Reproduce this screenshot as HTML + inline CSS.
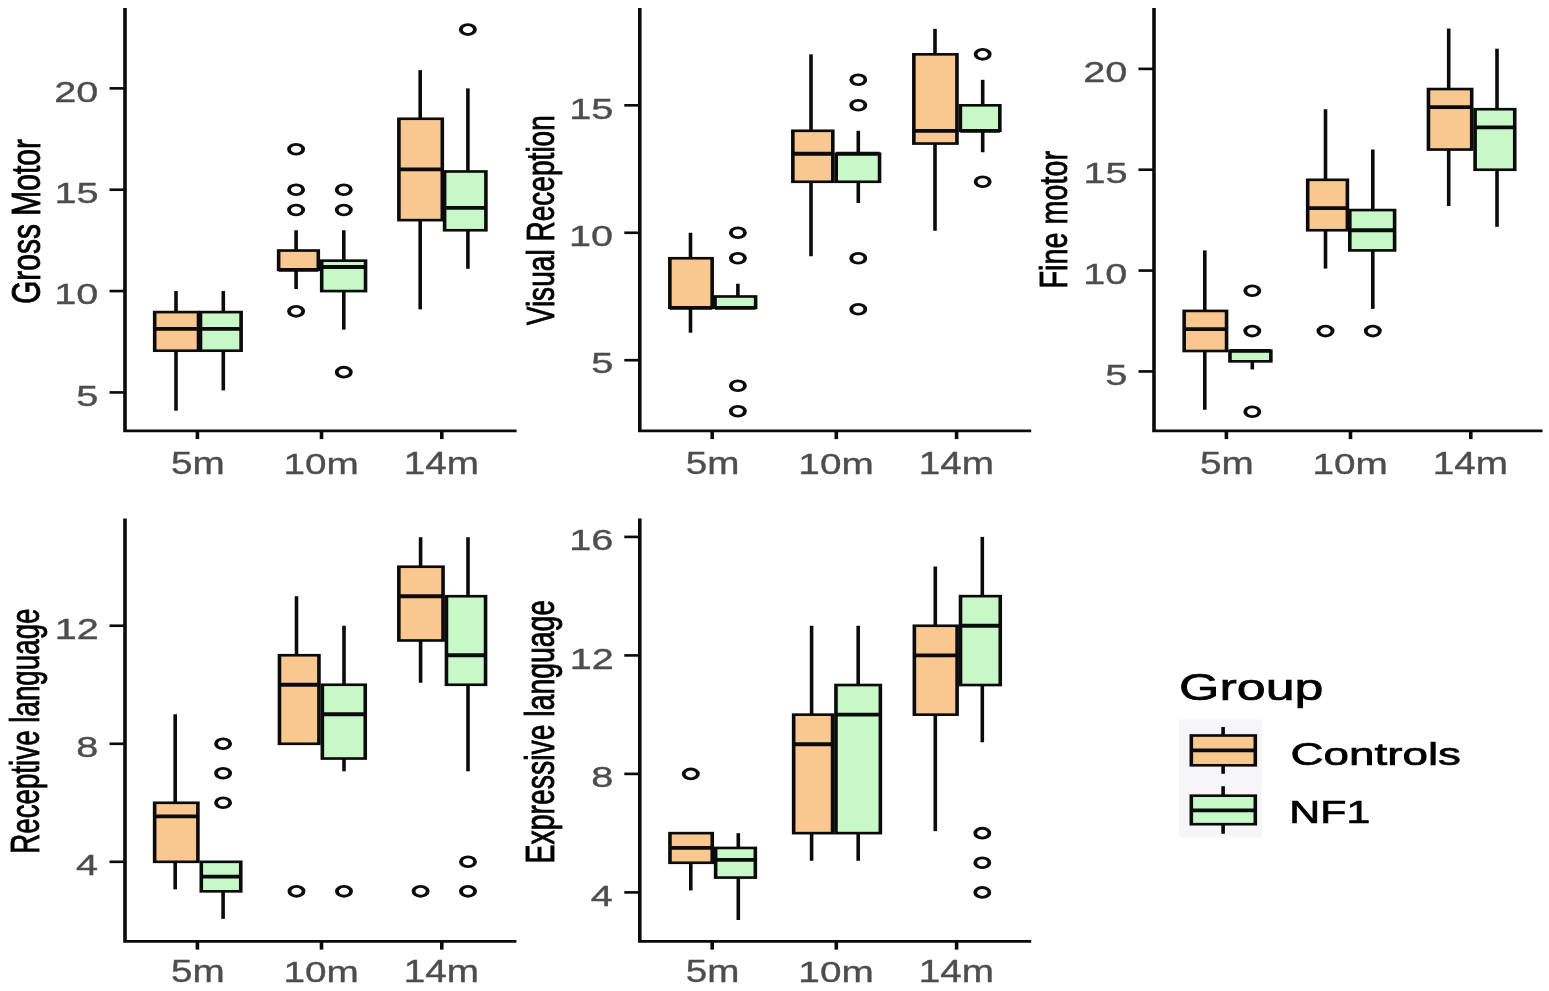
<!DOCTYPE html><html><head><meta charset="utf-8"><title>Boxplots</title><style>html,body{margin:0;padding:0;background:#fff}svg{display:block}text{font-family:"Liberation Sans",Arial,sans-serif}</style></head><body>
<svg width="1549" height="991" viewBox="0 0 1549 991">
<rect width="1549" height="991" fill="#fff"/>
<g transform="scale(1.36 1)" stroke="#0b0b0b" stroke-width="2.65" fill="none">
<rect x="113.75" y="312.1" width="32.21" height="38.6" fill="#F9C891" stroke="none"/>
<rect x="147.43" y="312.1" width="29.85" height="38.6" fill="#C8F7C8" stroke="none"/>
<rect x="204.89" y="250.53" width="29.15" height="19.27" fill="#F9C891" stroke="none"/>
<rect x="236.54" y="260.67" width="32.24" height="30.41" fill="#C8F7C8" stroke="none"/>
<rect x="293.31" y="118.78" width="31.91" height="101.35" fill="#F9C891" stroke="none"/>
<rect x="326.91" y="171.48" width="30.37" height="58.78" fill="#C8F7C8" stroke="none"/>
<line x1="129.41" x2="129.41" y1="291.07" y2="312.1"/>
<line x1="129.41" x2="129.41" y1="350.7" y2="410.69"/>
<rect x="113.75" y="312.1" width="32.21" height="38.6"/>
<line x1="113.75" x2="145.96" y1="328.8" y2="328.8" stroke-width="3.8"/>
<line x1="164.19" x2="164.19" y1="291.07" y2="312.1"/>
<line x1="164.19" x2="164.19" y1="350.7" y2="390.42"/>
<rect x="147.43" y="312.1" width="29.85" height="38.6"/>
<line x1="147.43" x2="177.28" y1="328.8" y2="328.8" stroke-width="3.8"/>
<line x1="217.72" x2="217.72" y1="230.26" y2="250.53"/>
<line x1="217.72" x2="217.72" y1="269.8" y2="289.07"/>
<rect x="204.89" y="250.53" width="29.15" height="19.27"/>
<line x1="204.89" x2="234.04" y1="269.8" y2="269.8" stroke-width="3.8"/>
<ellipse cx="217.72" cy="149.18" rx="5.2" ry="4.9" stroke-width="2.8"/>
<ellipse cx="217.72" cy="189.72" rx="5.2" ry="4.9" stroke-width="2.8"/>
<ellipse cx="217.72" cy="209.99" rx="5.2" ry="4.9" stroke-width="2.8"/>
<ellipse cx="217.72" cy="311.34" rx="5.2" ry="4.9" stroke-width="2.8"/>
<line x1="252.79" x2="252.79" y1="230.26" y2="260.67"/>
<line x1="252.79" x2="252.79" y1="291.07" y2="329.61"/>
<rect x="236.54" y="260.67" width="32.24" height="30.41"/>
<line x1="236.54" x2="268.79" y1="267" y2="267" stroke-width="3.8"/>
<ellipse cx="252.79" cy="189.72" rx="5.2" ry="4.9" stroke-width="2.8"/>
<ellipse cx="252.79" cy="209.99" rx="5.2" ry="4.9" stroke-width="2.8"/>
<ellipse cx="252.79" cy="372.15" rx="5.2" ry="4.9" stroke-width="2.8"/>
<line x1="308.97" x2="308.97" y1="70.13" y2="118.78"/>
<line x1="308.97" x2="308.97" y1="220.13" y2="309.34"/>
<rect x="293.31" y="118.78" width="31.91" height="101.35"/>
<line x1="293.31" x2="325.22" y1="169.45" y2="169.45" stroke-width="3.8"/>
<line x1="344.04" x2="344.04" y1="88.37" y2="171.48"/>
<line x1="344.04" x2="344.04" y1="230.26" y2="268.8"/>
<rect x="326.91" y="171.48" width="30.37" height="58.78"/>
<line x1="326.91" x2="357.28" y1="207.96" y2="207.96" stroke-width="3.8"/>
<ellipse cx="344.04" cy="29.59" rx="5.2" ry="4.9" stroke-width="2.8"/>
<path d="M91.91 8V430.8H379.85" stroke-linecap="butt" stroke-linejoin="miter"/>
<line x1="80.51" x2="91.91" y1="392.42" y2="392.42"/>
<line x1="80.51" x2="91.91" y1="291.07" y2="291.07"/>
<line x1="80.51" x2="91.91" y1="189.72" y2="189.72"/>
<line x1="80.51" x2="91.91" y1="88.37" y2="88.37"/>
<line x1="145.15" x2="145.15" y1="430.8" y2="439.1"/>
<line x1="236.4" x2="236.4" y1="430.8" y2="439.1"/>
<line x1="324.85" x2="324.85" y1="430.8" y2="439.1"/>
</g>
<text transform="translate(76.36 405.62) scale(1.34 1)" font-size="29.57" fill="#4D4D4D" stroke="#4D4D4D" stroke-width="0.35">5</text>
<text transform="translate(54.24 304.27) scale(1.36 1)" font-size="29.14" fill="#4D4D4D" stroke="#4D4D4D" stroke-width="0.35">10</text>
<text transform="translate(54.44 202.92) scale(1.34 1)" font-size="29.57" fill="#4D4D4D" stroke="#4D4D4D" stroke-width="0.35">15</text>
<text transform="translate(54.24 101.57) scale(1.36 1)" font-size="29.14" fill="#4D4D4D" stroke="#4D4D4D" stroke-width="0.35">20</text>
<text transform="translate(170.92 474.1) scale(1.27 1)" font-size="30.43" fill="#4D4D4D" stroke="#4D4D4D" stroke-width="0.35">5m</text>
<text transform="translate(283.57 474.1) scale(1.29 1)" font-size="30" fill="#4D4D4D" stroke="#4D4D4D" stroke-width="0.35">10m</text>
<text transform="translate(403.87 474.1) scale(1.27 1)" font-size="30.43" fill="#4D4D4D" stroke="#4D4D4D" stroke-width="0.35">14m</text>
<text transform="translate(39.5 304.1) rotate(-90) scale(0.75 1)" font-size="40" fill="#000" stroke="#000" stroke-width="0.9">Gross Motor</text>
<g transform="scale(1.36 1)" stroke="#0b0b0b" stroke-width="2.65" fill="none">
<rect x="492.54" y="258.25" width="31.1" height="49.55" fill="#F9C891" stroke="none"/>
<rect x="525.77" y="296.49" width="29.85" height="11.31" fill="#C8F7C8" stroke="none"/>
<rect x="582.98" y="130.8" width="29.37" height="50.98" fill="#F9C891" stroke="none"/>
<rect x="614.85" y="153.74" width="31.87" height="28.04" fill="#C8F7C8" stroke="none"/>
<rect x="671.95" y="54.33" width="31.69" height="89.22" fill="#F9C891" stroke="none"/>
<rect x="706.14" y="105.31" width="29.04" height="25.49" fill="#C8F7C8" stroke="none"/>
<line x1="507.72" x2="507.72" y1="232.76" y2="258.25"/>
<line x1="507.72" x2="507.72" y1="307.8" y2="332.72"/>
<rect x="492.54" y="258.25" width="31.1" height="49.55"/>
<line x1="492.54" x2="523.64" y1="307.8" y2="307.8" stroke-width="3.8"/>
<line x1="542.57" x2="542.57" y1="283.74" y2="296.49"/>
<rect x="525.77" y="296.49" width="29.85" height="11.31"/>
<line x1="525.77" x2="555.62" y1="307.8" y2="307.8" stroke-width="3.8"/>
<ellipse cx="542.57" cy="232.76" rx="5.2" ry="4.9" stroke-width="2.8"/>
<ellipse cx="542.57" cy="258.25" rx="5.2" ry="4.9" stroke-width="2.8"/>
<ellipse cx="542.57" cy="385.7" rx="5.2" ry="4.9" stroke-width="2.8"/>
<ellipse cx="542.57" cy="411.19" rx="5.2" ry="4.9" stroke-width="2.8"/>
<line x1="596.32" x2="596.32" y1="54.33" y2="130.8"/>
<line x1="596.32" x2="596.32" y1="181.78" y2="256.25"/>
<rect x="582.98" y="130.8" width="29.37" height="50.98"/>
<line x1="582.98" x2="612.35" y1="153.74" y2="153.74" stroke-width="3.8"/>
<line x1="631.1" x2="631.1" y1="130.8" y2="153.74"/>
<line x1="631.1" x2="631.1" y1="181.78" y2="202.98"/>
<rect x="614.85" y="153.74" width="31.87" height="28.04"/>
<line x1="614.85" x2="646.73" y1="153.74" y2="153.74" stroke-width="3.8"/>
<ellipse cx="631.1" cy="79.82" rx="5.2" ry="4.9" stroke-width="2.8"/>
<ellipse cx="631.1" cy="105.31" rx="5.2" ry="4.9" stroke-width="2.8"/>
<ellipse cx="631.1" cy="258.25" rx="5.2" ry="4.9" stroke-width="2.8"/>
<ellipse cx="631.1" cy="309.23" rx="5.2" ry="4.9" stroke-width="2.8"/>
<line x1="687.5" x2="687.5" y1="28.84" y2="54.33"/>
<line x1="687.5" x2="687.5" y1="143.55" y2="230.76"/>
<rect x="671.95" y="54.33" width="31.69" height="89.22"/>
<line x1="671.95" x2="703.64" y1="130.8" y2="130.8" stroke-width="3.8"/>
<line x1="722.57" x2="722.57" y1="79.82" y2="105.31"/>
<line x1="722.57" x2="722.57" y1="130.8" y2="152.25"/>
<rect x="706.14" y="105.31" width="29.04" height="25.49"/>
<line x1="706.14" x2="735.18" y1="130.8" y2="130.8" stroke-width="3.8"/>
<ellipse cx="722.57" cy="54.33" rx="5.2" ry="4.9" stroke-width="2.8"/>
<ellipse cx="722.57" cy="181.78" rx="5.2" ry="4.9" stroke-width="2.8"/>
<path d="M470.44 8V430.8H758.24" stroke-linecap="butt" stroke-linejoin="miter"/>
<line x1="459.04" x2="470.44" y1="360.21" y2="360.21"/>
<line x1="459.04" x2="470.44" y1="232.76" y2="232.76"/>
<line x1="459.04" x2="470.44" y1="105.31" y2="105.31"/>
<line x1="523.68" x2="523.68" y1="430.8" y2="439.1"/>
<line x1="614.93" x2="614.93" y1="430.8" y2="439.1"/>
<line x1="703.38" x2="703.38" y1="430.8" y2="439.1"/>
</g>
<text transform="translate(591.16 373.41) scale(1.34 1)" font-size="29.57" fill="#4D4D4D" stroke="#4D4D4D" stroke-width="0.35">5</text>
<text transform="translate(569.04 245.96) scale(1.36 1)" font-size="29.14" fill="#4D4D4D" stroke="#4D4D4D" stroke-width="0.35">10</text>
<text transform="translate(569.24 118.51) scale(1.34 1)" font-size="29.57" fill="#4D4D4D" stroke="#4D4D4D" stroke-width="0.35">15</text>
<text transform="translate(685.72 474.1) scale(1.27 1)" font-size="30.43" fill="#4D4D4D" stroke="#4D4D4D" stroke-width="0.35">5m</text>
<text transform="translate(798.37 474.1) scale(1.29 1)" font-size="30" fill="#4D4D4D" stroke="#4D4D4D" stroke-width="0.35">10m</text>
<text transform="translate(918.67 474.1) scale(1.27 1)" font-size="30.43" fill="#4D4D4D" stroke="#4D4D4D" stroke-width="0.35">14m</text>
<text transform="translate(553.6 325.34) rotate(-90) scale(0.73 1)" font-size="38.48" fill="#000" stroke="#000" stroke-width="0.9">Visual Reception</text>
<g transform="scale(1.36 1)" stroke="#0b0b0b" stroke-width="2.65" fill="none">
<rect x="870.7" y="310.92" width="31.18" height="40.08" fill="#F9C891" stroke="none"/>
<rect x="904.38" y="350.8" width="30.07" height="10.54" fill="#C8F7C8" stroke="none"/>
<rect x="961.54" y="179.81" width="29.19" height="50.43" fill="#F9C891" stroke="none"/>
<rect x="992.5" y="210.06" width="32.94" height="40.34" fill="#C8F7C8" stroke="none"/>
<rect x="1050.33" y="89.04" width="31.8" height="60.51" fill="#F9C891" stroke="none"/>
<rect x="1084.63" y="109.22" width="29.15" height="60.51" fill="#C8F7C8" stroke="none"/>
<line x1="885.88" x2="885.88" y1="250.41" y2="310.92"/>
<line x1="885.88" x2="885.88" y1="351" y2="409.76"/>
<rect x="870.7" y="310.92" width="31.18" height="40.08"/>
<line x1="870.7" x2="901.87" y1="329.2" y2="329.2" stroke-width="3.8"/>
<line x1="920.81" x2="920.81" y1="361.34" y2="369.43"/>
<rect x="904.38" y="350.8" width="30.07" height="10.54"/>
<line x1="904.38" x2="934.45" y1="350.8" y2="350.8" stroke-width="3.8"/>
<ellipse cx="920.81" cy="290.75" rx="5.2" ry="4.9" stroke-width="2.8"/>
<ellipse cx="920.81" cy="331.09" rx="5.2" ry="4.9" stroke-width="2.8"/>
<ellipse cx="920.81" cy="411.76" rx="5.2" ry="4.9" stroke-width="2.8"/>
<line x1="974.63" x2="974.63" y1="109.22" y2="179.81"/>
<line x1="974.63" x2="974.63" y1="230.24" y2="268.57"/>
<rect x="961.54" y="179.81" width="29.19" height="50.43"/>
<line x1="961.54" x2="990.74" y1="208.05" y2="208.05" stroke-width="3.8"/>
<ellipse cx="974.63" cy="331.09" rx="5.2" ry="4.9" stroke-width="2.8"/>
<line x1="1009.41" x2="1009.41" y1="149.56" y2="210.06"/>
<line x1="1009.41" x2="1009.41" y1="250.41" y2="308.92"/>
<rect x="992.5" y="210.06" width="32.94" height="40.34"/>
<line x1="992.5" x2="1025.44" y1="230.24" y2="230.24" stroke-width="3.8"/>
<ellipse cx="1009.41" cy="331.09" rx="5.2" ry="4.9" stroke-width="2.8"/>
<line x1="1065.22" x2="1065.22" y1="28.53" y2="89.04"/>
<line x1="1065.22" x2="1065.22" y1="149.56" y2="206.05"/>
<rect x="1050.33" y="89.04" width="31.8" height="60.51"/>
<line x1="1050.33" x2="1082.13" y1="107.2" y2="107.2" stroke-width="3.8"/>
<line x1="1100.74" x2="1100.74" y1="48.7" y2="109.22"/>
<line x1="1100.74" x2="1100.74" y1="169.72" y2="226.82"/>
<rect x="1084.63" y="109.22" width="29.15" height="60.51"/>
<line x1="1084.63" x2="1113.79" y1="127.37" y2="127.37" stroke-width="3.8"/>
<path d="M848.53 8V430.8H1134.19" stroke-linecap="butt" stroke-linejoin="miter"/>
<line x1="837.13" x2="848.53" y1="371.43" y2="371.43"/>
<line x1="837.13" x2="848.53" y1="270.57" y2="270.57"/>
<line x1="837.13" x2="848.53" y1="169.72" y2="169.72"/>
<line x1="837.13" x2="848.53" y1="68.88" y2="68.88"/>
<line x1="901.76" x2="901.76" y1="430.8" y2="439.1"/>
<line x1="993.01" x2="993.01" y1="430.8" y2="439.1"/>
<line x1="1081.47" x2="1081.47" y1="430.8" y2="439.1"/>
</g>
<text transform="translate(1105.36 384.62) scale(1.34 1)" font-size="29.57" fill="#4D4D4D" stroke="#4D4D4D" stroke-width="0.35">5</text>
<text transform="translate(1083.24 283.77) scale(1.36 1)" font-size="29.14" fill="#4D4D4D" stroke="#4D4D4D" stroke-width="0.35">10</text>
<text transform="translate(1083.43 182.92) scale(1.34 1)" font-size="29.57" fill="#4D4D4D" stroke="#4D4D4D" stroke-width="0.35">15</text>
<text transform="translate(1083.24 82.08) scale(1.36 1)" font-size="29.14" fill="#4D4D4D" stroke="#4D4D4D" stroke-width="0.35">20</text>
<text transform="translate(1199.92 474.1) scale(1.27 1)" font-size="30.43" fill="#4D4D4D" stroke="#4D4D4D" stroke-width="0.35">5m</text>
<text transform="translate(1312.57 474.1) scale(1.29 1)" font-size="30" fill="#4D4D4D" stroke="#4D4D4D" stroke-width="0.35">10m</text>
<text transform="translate(1432.87 474.1) scale(1.27 1)" font-size="30.43" fill="#4D4D4D" stroke="#4D4D4D" stroke-width="0.35">14m</text>
<text transform="translate(1067.3 288.49) rotate(-90) scale(0.74 1)" font-size="38.9" fill="#000" stroke="#000" stroke-width="0.9">Fine motor</text>
<g transform="scale(1.36 1)" stroke="#0b0b0b" stroke-width="2.65" fill="none">
<rect x="113.71" y="802.8" width="31.8" height="59.02" fill="#F9C891" stroke="none"/>
<rect x="148.01" y="861.82" width="29.01" height="29.51" fill="#C8F7C8" stroke="none"/>
<rect x="205.48" y="655.25" width="29.04" height="88.53" fill="#F9C891" stroke="none"/>
<rect x="237.02" y="684.76" width="31.54" height="73.77" fill="#C8F7C8" stroke="none"/>
<rect x="293.27" y="566.72" width="32.5" height="73.77" fill="#F9C891" stroke="none"/>
<rect x="328.27" y="596.23" width="28.75" height="88.53" fill="#C8F7C8" stroke="none"/>
<line x1="128.82" x2="128.82" y1="714.27" y2="802.8"/>
<line x1="128.82" x2="128.82" y1="861.82" y2="889.33"/>
<rect x="113.71" y="802.8" width="31.8" height="59.02"/>
<line x1="113.71" x2="145.51" y1="816.3" y2="816.3" stroke-width="3.8"/>
<line x1="164.04" x2="164.04" y1="891.33" y2="918.84"/>
<rect x="148.01" y="861.82" width="29.01" height="29.51"/>
<line x1="148.01" x2="177.02" y1="876.58" y2="876.58" stroke-width="3.8"/>
<ellipse cx="164.04" cy="743.78" rx="5.2" ry="4.9" stroke-width="2.8"/>
<ellipse cx="164.04" cy="773.29" rx="5.2" ry="4.9" stroke-width="2.8"/>
<ellipse cx="164.04" cy="802.8" rx="5.2" ry="4.9" stroke-width="2.8"/>
<line x1="218.01" x2="218.01" y1="596.23" y2="655.25"/>
<rect x="205.48" y="655.25" width="29.04" height="88.53"/>
<line x1="205.48" x2="234.52" y1="684.76" y2="684.76" stroke-width="3.8"/>
<ellipse cx="218.01" cy="891.33" rx="5.2" ry="4.9" stroke-width="2.8"/>
<line x1="252.94" x2="252.94" y1="625.74" y2="684.76"/>
<line x1="252.94" x2="252.94" y1="758.53" y2="771.29"/>
<rect x="237.02" y="684.76" width="31.54" height="73.77"/>
<line x1="237.02" x2="268.57" y1="714.27" y2="714.27" stroke-width="3.8"/>
<ellipse cx="252.94" cy="891.33" rx="5.2" ry="4.9" stroke-width="2.8"/>
<line x1="309.26" x2="309.26" y1="537.21" y2="566.72"/>
<line x1="309.26" x2="309.26" y1="640.5" y2="682.76"/>
<rect x="293.27" y="566.72" width="32.5" height="73.77"/>
<line x1="293.27" x2="325.77" y1="596.23" y2="596.23" stroke-width="3.8"/>
<ellipse cx="309.26" cy="891.33" rx="5.2" ry="4.9" stroke-width="2.8"/>
<line x1="344.12" x2="344.12" y1="537.21" y2="596.23"/>
<line x1="344.12" x2="344.12" y1="684.76" y2="771.29"/>
<rect x="328.27" y="596.23" width="28.75" height="88.53"/>
<line x1="328.27" x2="357.02" y1="655.25" y2="655.25" stroke-width="3.8"/>
<ellipse cx="344.12" cy="861.82" rx="5.2" ry="4.9" stroke-width="2.8"/>
<ellipse cx="344.12" cy="891.33" rx="5.2" ry="4.9" stroke-width="2.8"/>
<path d="M91.91 518.6V941.3H379.71" stroke-linecap="butt" stroke-linejoin="miter"/>
<line x1="80.51" x2="91.91" y1="861.82" y2="861.82"/>
<line x1="80.51" x2="91.91" y1="743.78" y2="743.78"/>
<line x1="80.51" x2="91.91" y1="625.74" y2="625.74"/>
<line x1="145.15" x2="145.15" y1="941.3" y2="949.6"/>
<line x1="236.4" x2="236.4" y1="941.3" y2="949.6"/>
<line x1="324.85" x2="324.85" y1="941.3" y2="949.6"/>
</g>
<text transform="translate(75.96 875.02) scale(1.34 1)" font-size="29.57" fill="#4D4D4D" stroke="#4D4D4D" stroke-width="0.35">4</text>
<text transform="translate(76.36 756.98) scale(1.36 1)" font-size="29.14" fill="#4D4D4D" stroke="#4D4D4D" stroke-width="0.35">8</text>
<text transform="translate(54.83 638.94) scale(1.36 1)" font-size="29.14" fill="#4D4D4D" stroke="#4D4D4D" stroke-width="0.35">12</text>
<text transform="translate(170.92 982.3) scale(1.27 1)" font-size="30.43" fill="#4D4D4D" stroke="#4D4D4D" stroke-width="0.35">5m</text>
<text transform="translate(283.57 982.3) scale(1.29 1)" font-size="30" fill="#4D4D4D" stroke="#4D4D4D" stroke-width="0.35">10m</text>
<text transform="translate(403.87 982.3) scale(1.27 1)" font-size="30.43" fill="#4D4D4D" stroke="#4D4D4D" stroke-width="0.35">14m</text>
<text transform="translate(39.3 853.84) rotate(-90) scale(0.68 1)" font-size="40.83" fill="#000" stroke="#000" stroke-width="0.9">Receptive language</text>
<g transform="scale(1.36 1)" stroke="#0b0b0b" stroke-width="2.65" fill="none">
<rect x="492.61" y="833.15" width="31.1" height="29.62" fill="#F9C891" stroke="none"/>
<rect x="526.21" y="847.96" width="29.19" height="29.62" fill="#C8F7C8" stroke="none"/>
<rect x="583.57" y="714.65" width="28.6" height="118.5" fill="#F9C891" stroke="none"/>
<rect x="614.67" y="685.02" width="32.65" height="148.12" fill="#C8F7C8" stroke="none"/>
<rect x="672.32" y="625.77" width="31.43" height="88.88" fill="#F9C891" stroke="none"/>
<rect x="706.25" y="596.15" width="29.23" height="88.88" fill="#C8F7C8" stroke="none"/>
<line x1="507.94" x2="507.94" y1="862.77" y2="890.4"/>
<rect x="492.61" y="833.15" width="31.1" height="29.62"/>
<line x1="492.61" x2="523.71" y1="847.96" y2="847.96" stroke-width="3.8"/>
<ellipse cx="507.94" cy="773.9" rx="5.2" ry="4.9" stroke-width="2.8"/>
<line x1="542.87" x2="542.87" y1="833.15" y2="847.96"/>
<line x1="542.87" x2="542.87" y1="877.59" y2="920.02"/>
<rect x="526.21" y="847.96" width="29.19" height="29.62"/>
<line x1="526.21" x2="555.4" y1="859.81" y2="859.81" stroke-width="3.8"/>
<line x1="596.76" x2="596.76" y1="625.77" y2="714.65"/>
<line x1="596.76" x2="596.76" y1="833.15" y2="860.77"/>
<rect x="583.57" y="714.65" width="28.6" height="118.5"/>
<line x1="583.57" x2="612.17" y1="744.27" y2="744.27" stroke-width="3.8"/>
<line x1="631.03" x2="631.03" y1="625.77" y2="685.02"/>
<line x1="631.03" x2="631.03" y1="833.15" y2="860.77"/>
<rect x="614.67" y="685.02" width="32.65" height="148.12"/>
<line x1="614.67" x2="647.32" y1="714.65" y2="714.65" stroke-width="3.8"/>
<line x1="687.72" x2="687.72" y1="566.52" y2="625.77"/>
<line x1="687.72" x2="687.72" y1="714.65" y2="831.15"/>
<rect x="672.32" y="625.77" width="31.43" height="88.88"/>
<line x1="672.32" x2="703.75" y1="655.4" y2="655.4" stroke-width="3.8"/>
<line x1="722.28" x2="722.28" y1="536.9" y2="596.15"/>
<line x1="722.28" x2="722.28" y1="685.02" y2="742.27"/>
<rect x="706.25" y="596.15" width="29.23" height="88.88"/>
<line x1="706.25" x2="735.48" y1="625.77" y2="625.77" stroke-width="3.8"/>
<ellipse cx="722.28" cy="833.15" rx="5.2" ry="4.9" stroke-width="2.8"/>
<ellipse cx="722.28" cy="862.77" rx="5.2" ry="4.9" stroke-width="2.8"/>
<ellipse cx="722.28" cy="892.4" rx="5.2" ry="4.9" stroke-width="2.8"/>
<path d="M470.44 518.6V941.3H758.24" stroke-linecap="butt" stroke-linejoin="miter"/>
<line x1="459.04" x2="470.44" y1="892.4" y2="892.4"/>
<line x1="459.04" x2="470.44" y1="773.9" y2="773.9"/>
<line x1="459.04" x2="470.44" y1="655.4" y2="655.4"/>
<line x1="459.04" x2="470.44" y1="536.9" y2="536.9"/>
<line x1="523.68" x2="523.68" y1="941.3" y2="949.6"/>
<line x1="614.93" x2="614.93" y1="941.3" y2="949.6"/>
<line x1="703.38" x2="703.38" y1="941.3" y2="949.6"/>
</g>
<text transform="translate(590.76 905.6) scale(1.34 1)" font-size="29.57" fill="#4D4D4D" stroke="#4D4D4D" stroke-width="0.35">4</text>
<text transform="translate(591.16 787.1) scale(1.36 1)" font-size="29.14" fill="#4D4D4D" stroke="#4D4D4D" stroke-width="0.35">8</text>
<text transform="translate(569.63 668.6) scale(1.36 1)" font-size="29.14" fill="#4D4D4D" stroke="#4D4D4D" stroke-width="0.35">12</text>
<text transform="translate(569.24 550.1) scale(1.36 1)" font-size="29.14" fill="#4D4D4D" stroke="#4D4D4D" stroke-width="0.35">16</text>
<text transform="translate(685.72 982.3) scale(1.27 1)" font-size="30.43" fill="#4D4D4D" stroke="#4D4D4D" stroke-width="0.35">5m</text>
<text transform="translate(798.37 982.3) scale(1.29 1)" font-size="30" fill="#4D4D4D" stroke="#4D4D4D" stroke-width="0.35">10m</text>
<text transform="translate(918.67 982.3) scale(1.27 1)" font-size="30.43" fill="#4D4D4D" stroke="#4D4D4D" stroke-width="0.35">14m</text>
<text transform="translate(553.7 863.39) rotate(-90) scale(0.71 1)" font-size="40" fill="#000" stroke="#000" stroke-width="0.9">Expressive language</text>
<rect x="1179" y="719.6" width="83" height="117.8" fill="#F6F6F9"/>
<g transform="scale(1.36 1)" stroke="#0b0b0b" stroke-width="2.65">
<line x1="899.34" x2="899.34" y1="727" y2="773.8"/>
<rect x="875.96" y="735.5" width="47.06" height="29.8" fill="#F9C891"/>
<line x1="875.96" x2="923.01" y1="750.3" y2="750.3" stroke-width="3.8"/>
<line x1="899.34" x2="899.34" y1="786.2" y2="833.8"/>
<rect x="875.96" y="795.7" width="47.06" height="28.5" fill="#C8F7C8"/>
<line x1="875.96" x2="923.01" y1="810.3" y2="810.3" stroke-width="3.8"/>
</g>
<text transform="translate(1179 700) scale(1.4 1)" font-size="37.14" fill="#000" stroke="#000" stroke-width="0.7">Group</text>
<text transform="translate(1290.51 765.2) scale(1.45 1)" font-size="31.59" fill="#000" stroke="#000" stroke-width="0.7">Controls</text>
<text transform="translate(1289.36 823.4) scale(1.4 1)" font-size="30.58" fill="#000" stroke="#000" stroke-width="0.7">NF1</text>
</svg></body></html>
